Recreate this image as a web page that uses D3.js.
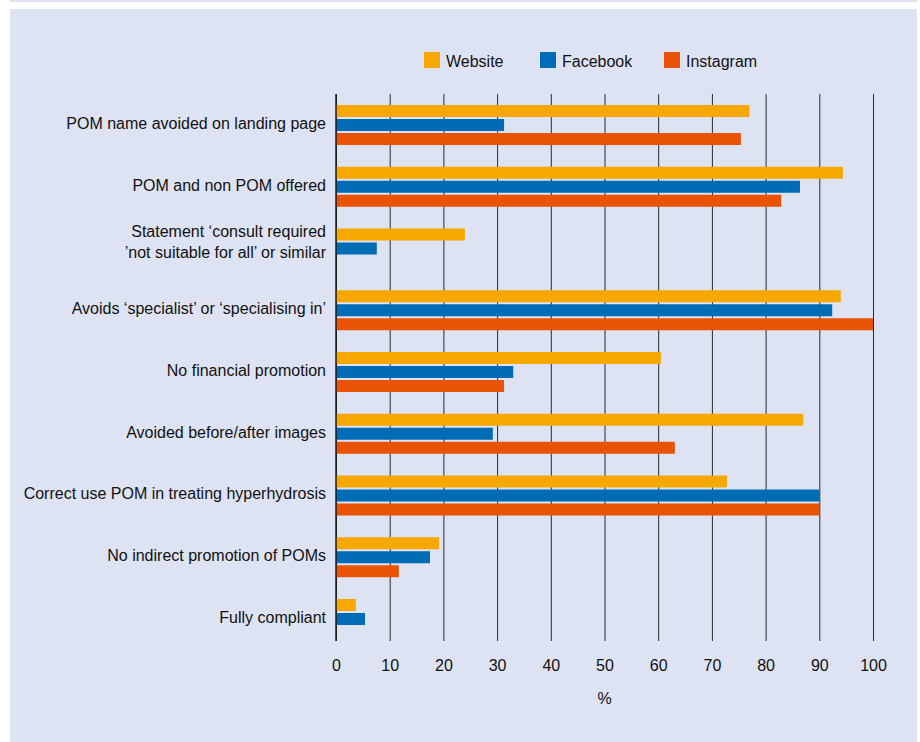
<!DOCTYPE html>
<html>
<head>
<meta charset="utf-8">
<script src="https://cdn.jsdelivr.net/npm/d3@7"></script>
<style>
  body { margin: 0; background: #fff; }
  text { font-family: "Liberation Sans", Arial, sans-serif; fill: #111; }
</style>
</head>
<body>
<div id="chart"></div>
<script>
const categories = [
    'POM name avoided on landing page',
    'POM and non POM offered',
    'Statement ‘consult required|’not suitable for all’ or similar',
    'Avoids ‘specialist’ or ‘specialising in’',
    'No financial promotion',
    'Avoided before/after images',
    'Correct use POM in treating hyperhydrosis',
    'No indirect promotion of POMs',
    'Fully compliant'
];
const series = ['Website', 'Facebook', 'Instagram'];
const website   = [77, 94.4, 24, 94, 60.5, 87, 72.8, 19.2, 3.7];
const facebook  = [31.3, 86.4, 7.6, 92.4, 33, 29.2, 90, 17.5, 5.4];
const instagram = [75.4, 82.9, 0, 100, 31.3, 63.1, 90, 11.7, 0];
const xTicks = [0, 10, 20, 30, 40, 50, 60, 70, 80, 90, 100];

const colors = {Website: '#f6a800', Facebook: '#006cb5', Instagram: '#e95306'};

const W = 920, H = 742;
const svg = d3.select('#chart').append('svg')
    .attr('width', W)
    .attr('height', H);

// panel background
svg.append('rect').attr('x', 10).attr('y', 0).attr('width', 907).attr('height', 2).attr('fill', '#dee3f3');
svg.append('rect').attr('x', 10).attr('y', 9).attr('width', 907).attr('height', H - 9).attr('fill', '#dee3f3');

const plotTop = 94, plotBottom = 641;

const x = d3.scaleLinear()
    .domain([0, 100])
    .range([336, 873]);

const y = d3.scaleBand()
    .domain(categories)
    .range([105, 639])
    .paddingInner(0.352)
    .paddingOuter(0);

const ySub = d3.scaleBand()
    .domain(series)
    .range([0, y.bandwidth()])
    .paddingInner(0.143);

// gridlines (ticks run below the plot)
svg.append('g')
    .attr('transform', `translate(0,${plotBottom})`)
    .call(d3.axisBottom(x).tickValues(xTicks).tickSize(-(plotBottom - plotTop)).tickPadding(19))
    .call(g => g.select('.domain').remove())
    .call(g => g.selectAll('.tick line').attr('stroke', '#2a2a2a').attr('stroke-width', 1))
    .call(g => g.selectAll('.tick text')
        .attr('font-size', 16)
        .attr('fill', '#111')
        .style('font-family', '"Liberation Sans", Arial, sans-serif'));

svg.append('text')
    .attr('x', x(50))
    .attr('y', 704)
    .attr('text-anchor', 'middle')
    .attr('font-size', 16)
    .text('%');

const rows = categories.map((c, i) => ({
    cat: c,
    vals: [
        {key: 'Website', value: website[i]},
        {key: 'Facebook', value: facebook[i]},
        {key: 'Instagram', value: instagram[i]}
    ]
}));

const groups = svg.selectAll('g.group')
    .data(rows)
    .enter()
    .append('g')
    .attr('class', 'group')
    .attr('transform', d => `translate(0,${y(d.cat)})`);

groups.selectAll('rect')
    .data(d => d.vals.filter(v => v.value > 0))
    .enter()
    .append('rect')
    .attr('x', x(0))
    .attr('y', d => ySub(d.key))
    .attr('width', d => x(d.value) - x(0))
    .attr('height', ySub.bandwidth())
    .attr('fill', d => colors[d.key]);

// y axis line
svg.append('line')
    .attr('x1', x(0)).attr('x2', x(0))
    .attr('y1', plotTop).attr('y2', plotBottom)
    .attr('stroke', '#1a1a1a')
    .attr('stroke-width', 1.5);

// category labels
groups.each(function(d) {
    const lines = d.cat.split('|');
    const mid = y.bandwidth() / 2;
    const t = d3.select(this).append('text')
        .attr('x', 326)
        .attr('text-anchor', 'end')
        .attr('font-size', 16);
    if (lines.length === 1) {
        t.attr('y', mid + 4).text(lines[0]);
    } else {
        t.attr('y', mid - 12).text(lines[0]);
        d3.select(this).append('text')
            .attr('x', 326)
            .attr('y', mid + 10)
            .attr('text-anchor', 'end')
            .attr('font-size', 16)
            .text(lines[1]);
    }
});

// legend
const legendX = [424, 540, 664];
const legend = svg.selectAll('g.legend')
    .data(series)
    .enter()
    .append('g')
    .attr('class', 'legend')
    .attr('transform', (d, i) => `translate(${legendX[i]},52)`);

legend.append('rect')
    .attr('width', 16)
    .attr('height', 16)
    .attr('fill', d => colors[d]);

legend.append('text')
    .attr('x', 22)
    .attr('y', 15)
    .attr('font-size', 16)
    .text(d => d);
</script>
</body>
</html>
